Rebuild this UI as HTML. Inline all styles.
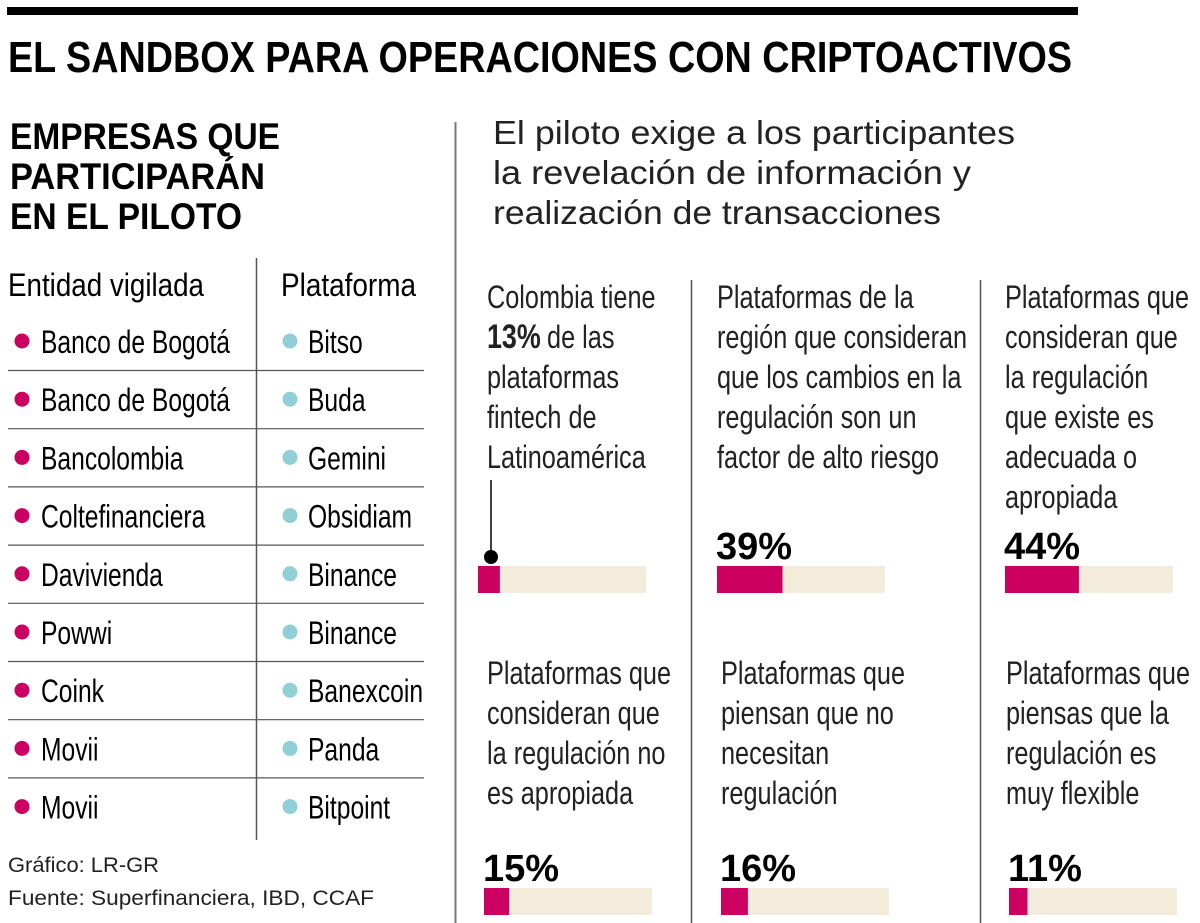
<!DOCTYPE html>
<html><head><meta charset="utf-8"><style>
html,body{margin:0;padding:0;background:#fff;}
svg{display:block;font-family:"Liberation Sans Narrow","Liberation Sans",sans-serif;}
</style></head><body>
<svg id="c" width="1200" height="923" viewBox="0 0 1200 923">
<rect x="7" y="7" width="1071" height="8" fill="#000"/>
<text x="8" y="72" font-size="44" font-weight="bold" textLength="1064" lengthAdjust="spacingAndGlyphs">EL SANDBOX PARA OPERACIONES CON CRIPTOACTIVOS</text>
<g font-weight="bold" font-size="37">
<text x="10" y="149" textLength="270" lengthAdjust="spacingAndGlyphs">EMPRESAS QUE</text>
<text x="10" y="189" textLength="255" lengthAdjust="spacingAndGlyphs">PARTICIPARÁN</text>
<text x="10" y="229" textLength="232" lengthAdjust="spacingAndGlyphs">EN EL PILOTO</text>
</g>
<line x1="455.5" y1="122" x2="455.5" y2="923" stroke="#777" stroke-width="2"/>
<g font-family="Liberation Sans, sans-serif" font-size="33" fill="#222">
<text x="493" y="144" textLength="522" lengthAdjust="spacingAndGlyphs">El piloto exige a los participantes</text>
<text x="493" y="184" textLength="478" lengthAdjust="spacingAndGlyphs">la revelación de información y</text>
<text x="493" y="224" textLength="448" lengthAdjust="spacingAndGlyphs">realización de transacciones</text>
</g>
<g id="table" font-size="32">
<text x="8" y="296" textLength="196" lengthAdjust="spacingAndGlyphs">Entidad vigilada</text>
<text x="281" y="296" textLength="135" lengthAdjust="spacingAndGlyphs">Plataforma</text>
<line x1="256.5" y1="258" x2="256.5" y2="840" stroke="#555" stroke-width="1.5"/>
</g>
<g id="panels"></g>
<g font-family="Liberation Sans, sans-serif" font-size="21" fill="#222">
<text x="8" y="872" textLength="151" lengthAdjust="spacingAndGlyphs">Gráfico: LR-GR</text>
<text x="8" y="905" textLength="366" lengthAdjust="spacingAndGlyphs">Fuente: Superfinanciera, IBD, CCAF</text>
</g>
</svg>
<script>
const entities=["Banco de Bogotá","Banco de Bogotá","Bancolombia","Coltefinanciera","Davivienda","Powwi","Coink","Movii","Movii"];
const platforms=["Bitso","Buda","Gemini","Obsidiam","Binance","Binance","Banexcoin","Panda","Bitpoint"];
const pctValues=[13,39,44,15,16,11];
const pctLabels=["13%","39%","44%","15%","16%","11%"];
const panelTexts=[
["Colombia tiene","de las","plataformas","fintech de","Latinoamérica"],
["Plataformas de la","región que consideran","que los cambios en la","regulación son un","factor de alto riesgo"],
["Plataformas que","consideran que","la regulación","que existe es","adecuada o","apropiada"],
["Plataformas que","consideran que","la regulación no","es apropiada"],
["Plataformas que","piensan que no","necesitan","regulación"],
["Plataformas que","piensas que la","regulación es","muy flexible"]];
const NS="http://www.w3.org/2000/svg";
const SX=0.77;
function mk(tag,attrs,parent){const e=document.createElementNS(NS,tag);for(const k in attrs)e.setAttribute(k,attrs[k]);parent.appendChild(e);return e;}
function ntext(x,y,attrs,parent,sx){const t=mk('text',Object.assign({x:0,y:0,transform:`translate(${x},${y}) scale(${sx||SX},1)`},attrs),parent);return t;}
const tbl=document.getElementById('table');
const rowY=i=>341+i*58.2;
entities.forEach((n,i)=>{
  const y=rowY(i);
  const d=mk('circle',{cx:22,cy:y,r:7.5,fill:'#cc0060'},tbl);
  
  
  const t=ntext(41,y+12,{},tbl);t.textContent=n;
  
  
  const d2=mk('circle',{cx:290,cy:y,r:7.5,fill:'#8fcfd5'},tbl);
  
  
  const t2=ntext(308,y+12,{},tbl);t2.textContent=platforms[i];
  
  
  if(i<entities.length-1){const l=mk('line',{x1:8,x2:424,y1:y+29.5,y2:y+29.5,stroke:'#555','stroke-width':1.2},tbl);
  
  }
});
const P=document.getElementById('panels');
[691.5,980.5].forEach(x=>{const l=mk('line',{x1:x,x2:x,y1:280,y2:923,stroke:'#555','stroke-width':1.5},P);

});
const colX=[[487,717,1005],[487,721,1006]];
const barX=[[478,717,1005],[484,721,1009]];
const barY=[566,888], barW=168, barH=27;
const xScale=v=>v/100*barW;
pctValues.forEach((v,i)=>{
  const r=Math.floor(i/3),c=i%3;
  const g=mk('g',{},P);
  
  
  const tx=colX[r][c], ty0=r===0?308:684;
  panelTexts[i].forEach((line,j)=>{
    const t=ntext(tx,ty0+j*40,{'font-size':32,fill:'#222'},g,0.79);
    if(i===0&&j===1){
      const b=mk('tspan',{'font-weight':'bold','font-size':34},t);b.textContent='13%';
      const s=mk('tspan',{dx:8},t);s.textContent=line;
    } else t.textContent=line;
    
    
  });
  const bx=barX[r][c], by=barY[r];
  const bg=mk('rect',{x:bx,y:by,width:barW,height:barH,fill:'#f3ecda'},g);
  
  
  const fg=mk('rect',{x:bx,y:by,width:xScale(v),height:barH,fill:'#cc0060'},g);
  
  
  if(i===0){
    const l=mk('line',{x1:bx+13,x2:bx+13,y1:480,y2:555,stroke:'#000','stroke-width':1.5},g);
    
    
    const d=mk('circle',{cx:bx+13,cy:557,r:7,fill:'#000'},g);
    
    
  } else {
    const t=ntext(bx-1,by-7,{'font-size':38,'font-weight':'bold',fill:'#000'},g,1.0);
    t.textContent=pctLabels[i];
    
    
  }
});
</script>
</body></html>
